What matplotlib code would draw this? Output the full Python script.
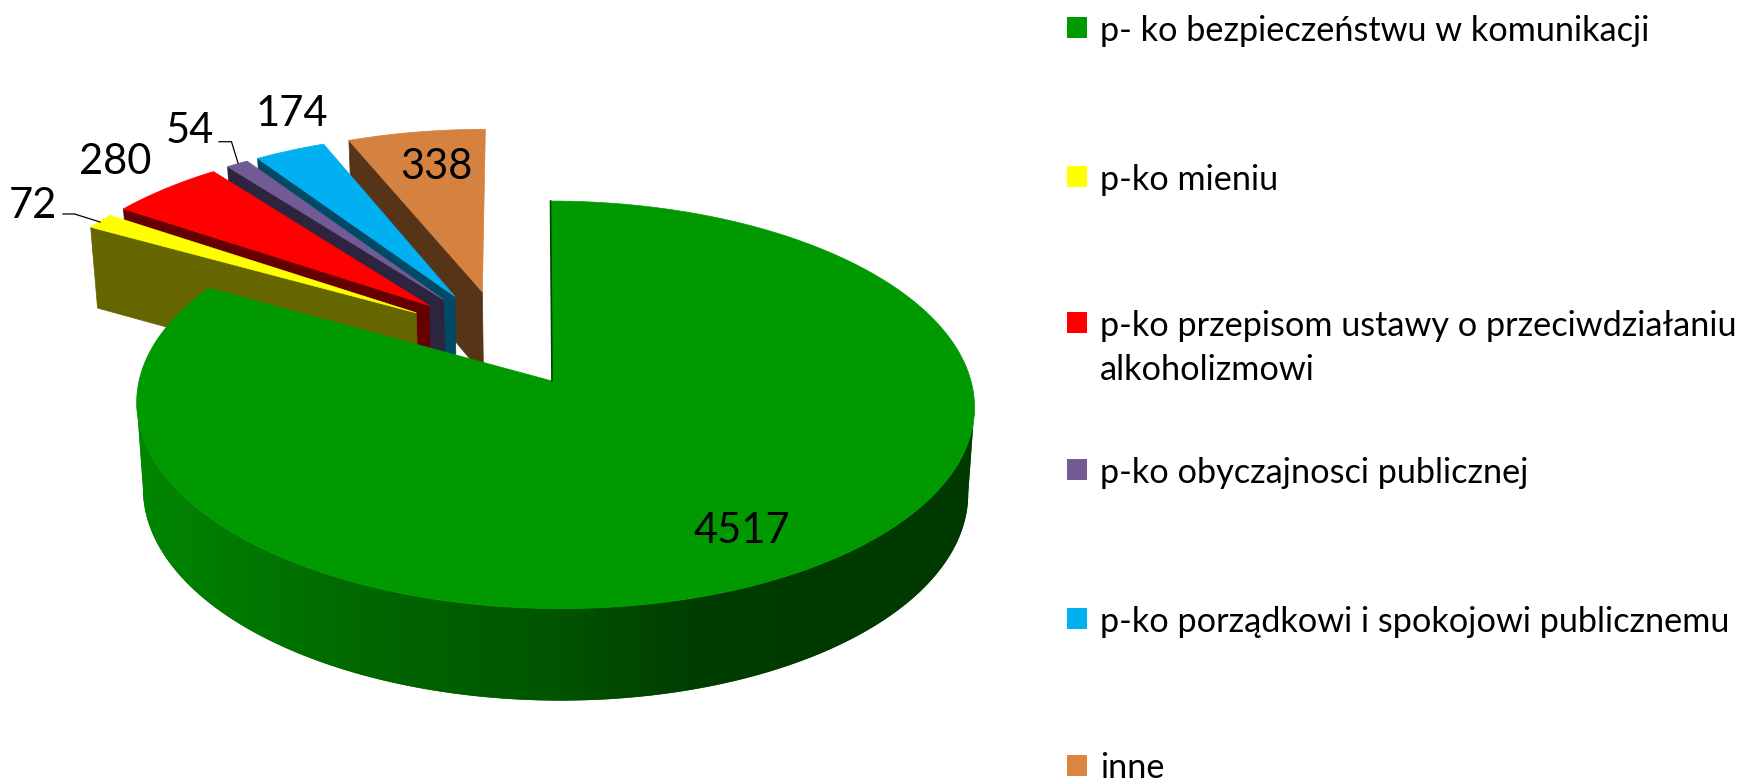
import numpy as np
import matplotlib
matplotlib.use("Agg")
import matplotlib.pyplot as plt
from matplotlib.patches import Polygon, Rectangle
from matplotlib.colors import LinearSegmentedColormap

plt.rcParams['font.family'] = ['Lato', 'DejaVu Sans']

categories = ["p- ko bezpieczeństwu w komunikacji", "p-ko mieniu",
              "p-ko przepisom ustawy o przeciwdziałaniu\nalkoholizmowi",
              "p-ko obyczajnosci publicznej",
              "p-ko porządkowi i spokojowi publicznemu", "inne"]
values = [4517, 72, 280, 54, 174, 338]
top_colors = ["#009900", "#FFFF00", "#FF0000", "#725A94", "#00B0F0", "#D5813F"]
wall_colors = ["#004400", "#666600", "#660000", "#2D2540", "#004A66", "#573317"]
legend_colors = ["#009900", "#FFFF00", "#FF0000", "#725A94", "#00B0F0", "#DB853F"]

# projection of the pie plane onto the canvas (pixels)
CX, CY, A, B, K, SHEAR = 555.0, 381.0, 416.0, 201.0, 0.117, 5.0
DEPTH, K2, BOTTOM_SCALE = 85.6, 0.069, 0.985
EXPLODE, GROUP_U, GROUP_V = 0.25, -0.130, 0.222


def project(u, v, bottom=False):
    u, v = np.asarray(u, float), np.asarray(v, float)
    d = 1 + K * v
    sx = BOTTOM_SCALE if bottom else 1.0
    x = CX + sx * A * u / d - SHEAR * v / d
    y = CY - B * v / d
    if bottom:
        y = y + DEPTH / (1 + K2 * v)
    return np.column_stack([x, y])


fig = plt.figure(figsize=(17.45, 7.79), dpi=100)
ax = fig.add_axes([0, 0, 1, 1])
ax.set_xlim(0, 1745)
ax.set_ylim(779, 0)
ax.axis('off')

angles = np.cumsum([0] + values) / sum(values) * 360.0
spans = list(zip(angles[:-1], angles[1:]))

# exploded slices, from back to front
for i in range(len(values) - 1, 0, -1):
    t0, t1 = np.radians(spans[i])
    mid = (t0 + t1) / 2
    au = GROUP_U + EXPLODE * np.sin(mid)
    av = GROUP_V + EXPLODE * np.cos(mid)
    ou, ov = au + np.sin(t0), av + np.cos(t0)
    wall = np.vstack([project([au, ou], [av, ov]),
                      project([ou, au], [ov, av], bottom=True)])
    ax.add_patch(Polygon(wall, closed=True, fc=wall_colors[i], ec=wall_colors[i], lw=0.5, zorder=2 + (6 - i) * 2))
    th = np.linspace(t0, t1, 60)
    top = np.vstack([project([au], [av]), project(au + np.sin(th), av + np.cos(th))])
    ax.add_patch(Polygon(top, closed=True, fc=top_colors[i], ec=top_colors[i], lw=0.5, zorder=3 + (6 - i) * 2))

# main slice: side wall with horizontal shading, then top
t0, t1 = np.radians(spans[0])
th = np.linspace(t0, t1, 500)
su, sv = np.sin(th), np.cos(th)
tp, bt = project(su, sv), project(su, sv, bottom=True)

# silhouette of the wall runs between the widest points of the rim
scan = np.radians(np.linspace(60, 300, 2401))
scan_x = project(np.sin(scan), np.cos(scan))[:, 0]
front = np.linspace(scan[np.argmax(scan_x)], scan[np.argmin(scan_x)], 400)
fu, fv = np.sin(front), np.cos(front)
wall_outline = np.vstack([project(fu, fv), project(fu[::-1], fv[::-1], bottom=True)])
wall_patch = Polygon(wall_outline, closed=True, fc=(0, 0.4, 0), ec='none', zorder=19.5)
ax.add_patch(wall_patch)
shade_x = [130, 350, 550, 694, 800, 980]
shade_g = [136, 105, 85, 62, 58, 58]
cmap = LinearSegmentedColormap.from_list(
    "wall", [((x - 130) / 850, (0, g / 255, 0)) for x, g in zip(shade_x, shade_g)], N=512)
im = ax.imshow(np.linspace(0, 1, 512)[None, :], cmap=cmap, vmin=0, vmax=1, aspect='auto',
               extent=(130, 980, 720, 300), zorder=20, interpolation='bilinear')
im.set_clip_path(wall_patch)
ax.set_xlim(0, 1745)
ax.set_ylim(779, 0)

apex = np.array([[552.0, 381.0]])
ax.add_patch(Polygon(np.vstack([apex, tp]), closed=True, fc=top_colors[0], ec=top_colors[0], lw=0.5, zorder=21))
ax.plot([tp[0, 0], apex[0, 0]], [tp[0, 1], apex[0, 1]], color=wall_colors[0], lw=1.2, zorder=22)

# data labels
label_xy = [(742, 531), (33, 206), (115, 162), (190, 131), (292, 114), (436, 167)]
for v, (x, y) in zip(values, label_xy):
    ax.text(x, y, str(v), fontsize=30, color='black', ha='center', va='center', zorder=30)

# leader lines
ax.plot([63, 74.6, 100], [214, 214, 222], color='black', lw=0.9, zorder=29)
ax.plot([219, 231.5, 238], [141.7, 141.7, 163], color='black', lw=0.9, zorder=29)

# legend
legend_y = [27.5, 176.5, 322.5, 469.5, 618.5, 765.5]
for lab, col, y in zip(categories, legend_colors, legend_y):
    ax.add_patch(Rectangle((1067, y - 10.5), 20, 21, fc=col, ec='none', zorder=30))
    for n, line in enumerate(lab.split("\n")):
        ax.text(1100, y + n * 44, line, fontsize=24.7, color='black', ha='left',
                va='center_baseline', zorder=30)

fig.savefig("out.png", dpi=100, facecolor='white')
